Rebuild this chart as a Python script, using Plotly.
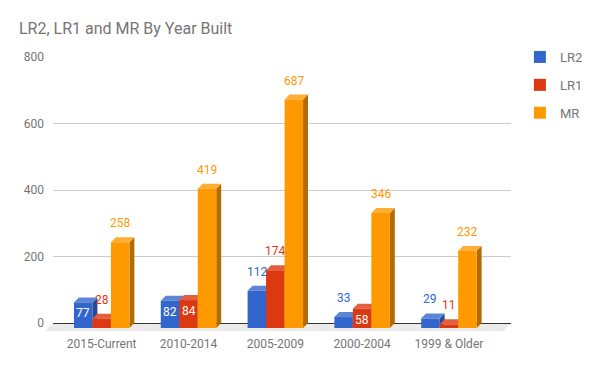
import plotly.graph_objects as go

# ---- data ----
categories = ["2015-Current", "2010-2014", "2005-2009", "2000-2004", "1999 & Older"]
series_names = ["LR2", "LR1", "MR"]
lr2 = [77, 82, 112, 33, 29]
lr1 = [28, 84, 174, 58, 11]
mr = [258, 419, 687, 346, 232]
y_ticks = [0, 200, 400, 600, 800]

series_values = [lr2, lr1, mr]

# ---- style ----
FONT = "Roboto, Arial, sans-serif"
TXT = "#757575"
face_colors = [
    ("#3366CC", "#5C85D6", "#254B96"),  # front, top, side
    ("#DC3912", "#E3603F", "#9E290D"),
    ("#FF9900", "#FFAD33", "#B36B00"),
]
BW = 0.213   # bar width (category units)
DX = 0.057   # 3D depth, x (category units)
DY = 15.0    # 3D depth, y (value units)
Y_RANGE = [-30, 800]
X_RANGE = [-0.561, 4.715]
PX_PER_UNIT = 266 / 800.0

# page body has an 8px margin; figure is sized to fill the rest of the window
W, H = 592, 363
ML, MR_, MT, MB = 45, 84, 49, 38
PLOT_W = W - ML - MR_
PLOT_H = H - MT - MB

fig = go.Figure()
shapes = []
annotations = []

# floor
fx = 8 / PLOT_W
shapes.append(dict(
    type="path", xref="paper", yref="y", layer="below",
    path=f"M0,0 L1,0 L{1 - fx},-24 L{-fx},-24 Z",
    fillcolor="#ebebeb", line=dict(width=0),
))

for k, (name, vals) in enumerate(zip(series_names, series_values)):
    front, top, side = face_colors[k]
    xs = [i + (k - 1) * BW for i in range(len(categories))]
    fig.add_trace(go.Bar(
        x=xs, y=vals, base=[-DY] * len(vals), width=BW, name=name,
        marker=dict(color=front, line=dict(width=0)),
        legendgroup=name, hoverinfo="skip",
    ))
    for x, v in zip(xs, vals):
        x0, x1 = x - BW / 2, x + BW / 2
        # side face
        shapes.append(dict(
            type="path", xref="x", yref="y", layer="between",
            path=f"M{x1},{-DY} L{x1 + DX},0 L{x1 + DX},{v} L{x1},{v - DY} Z",
            fillcolor=side, line=dict(width=0),
        ))
        # top face
        shapes.append(dict(
            type="path", xref="x", yref="y", layer="between",
            path=f"M{x0},{v - DY} L{x1},{v - DY} L{x1 + DX},{v} L{x0 + DX},{v} Z",
            fillcolor=top, line=dict(width=0),
        ))
        label = str(v)
        inside = len(label) <= 2 and v * PX_PER_UNIT >= 18
        if inside:
            annotations.append(dict(
                x=x, y=v - DY, xref="x", yref="y", text=label, showarrow=False,
                yanchor="top", xanchor="center", yshift=-2,
                font=dict(family=FONT, size=12, color="white"),
            ))
        else:
            annotations.append(dict(
                x=x, y=v, xref="x", yref="y", text=label, showarrow=False,
                yanchor="bottom", xanchor="center", yshift=5,
                font=dict(family=FONT, size=12, color=front),
            ))

fig.update_layout(
    width=W, height=H,
    margin=dict(l=ML, r=MR_, t=MT, b=MB),
    paper_bgcolor="white", plot_bgcolor="white",
    barmode="overlay",
    font=dict(family=FONT, size=12, color=TXT),
    title=dict(text="LR2, LR1 and MR By Year Built", x=11 / W, xanchor="left",
               y=1 - 20 / H, yanchor="middle",
               font=dict(family=FONT, size=16, color=TXT)),
    xaxis=dict(range=X_RANGE, tickvals=list(range(len(categories))), ticktext=categories,
               showgrid=False, zeroline=False, showline=False, ticks="",
               ticklabelstandoff=2,
               tickfont=dict(family=FONT, size=12, color=TXT), fixedrange=True),
    yaxis=dict(range=Y_RANGE, tickvals=y_ticks, showgrid=True, gridcolor="#cccccc",
               gridwidth=1, zeroline=True, zerolinecolor="#333333", zerolinewidth=1,
               showline=False, ticks="", ticklabelstandoff=8,
               tickfont=dict(family=FONT, size=12, color=TXT), fixedrange=True),
    legend=dict(x=(517 - ML) / PLOT_W, xanchor="left",
                y=(MT + PLOT_H - 34) / PLOT_H, yanchor="top",
                font=dict(family=FONT, size=13, color=TXT), tracegroupgap=8,
                bgcolor="rgba(0,0,0,0)", itemclick=False, itemdoubleclick=False),
    shapes=shapes,
    annotations=annotations,
    showlegend=True,
)

fig.write_html("out.html")
